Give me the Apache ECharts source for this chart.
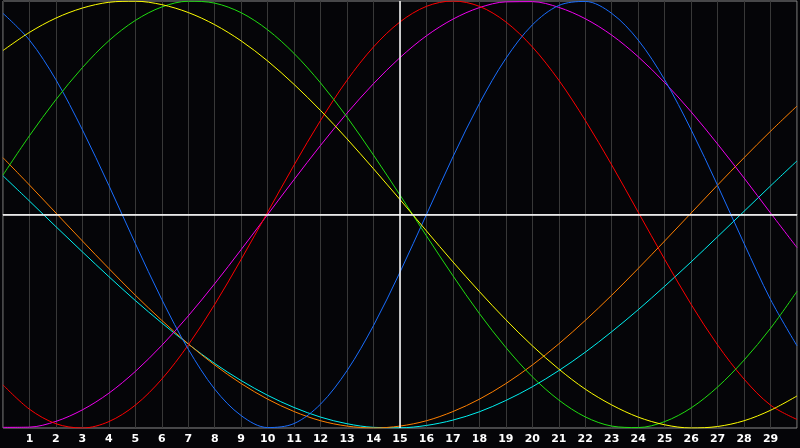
<!DOCTYPE html>
<html>
<head>
<meta charset="utf-8">
<script src="https://cdn.jsdelivr.net/npm/echarts@6/dist/echarts.min.js"></script>
<style>html,body{margin:0;padding:0;background:#050508;}#c{width:800px;height:448px;}</style>
</head>
<body>
<div id="c"></div>
<script>
var categories = ['0','1','2','3','4','5','6','7','8','9','10','11','12','13','14','15','16','17','18','19','20','21','22','23','24','25','26','27','28','29','30'];
var yellow  = [76.8,85.3,92.0,96.7,99.4,99.9,98.3,94.6,88.9,81.3,71.9,60.9,48.7,35.4,21.4,7.0,-7.7,-22.2,-36.1,-49.3,-61.5,-72.4,-81.8,-89.2,-94.9,-98.5,-100,-99.3,-96.6,-91.7,-85.0];
var green   = [18.5,36.9,53.8,68.8,81.4,90.9,97.2,99.9,99.0,94.5,86.5,75.4,61.6,45.6,27.8,9.1,-10.0,-28.7,-46.4,-62.3,-76.0,-86.9,-94.8,-99.1,-99.8,-97.0,-90.6,-80.8,-68.2,-53.3,-36.0];
var blue    = [94.2,81.7,63.1,39.7,13.6,-13.6,-39.8,-63.1,-81.8,-94.2,-99.8,-97.9,-88.8,-73.1,-52.0,-27.0,0,27.0,52.0,73.1,88.8,97.9,99.8,94.2,81.7,63.1,39.7,13.6,-13.6,-39.8,-61.5];
var red     = [-79.8,-91.2,-98.0,-100,-97.0,-89.3,-77.1,-61.1,-42.1,-21.0,1.1,23.2,44.1,62.9,78.5,90.2,97.5,100,97.5,90.2,78.5,62.9,44.1,23.2,1.1,-21.0,-42.1,-61.1,-77.1,-89.3,-96.0];
var magenta = [-99.7,-99.6,-96.9,-91.5,-83.7,-73.5,-61.3,-47.5,-32.4,-16.4,0,16.4,32.4,47.5,61.3,73.5,83.7,91.5,96.9,99.6,99.7,97.0,91.7,84.0,73.9,61.8,48.1,33.0,17.1,0.7,-15.5];
var orange  = [26.6,13.8,0.7,-12.4,-25.3,-37.8,-49.6,-60.6,-70.5,-79.2,-86.5,-92.3,-96.6,-99.1,-100,-99.1,-96.6,-92.3,-86.5,-79.2,-70.5,-60.6,-49.6,-37.8,-25.3,-12.4,0.7,13.8,26.6,39.0,50.8];
var cyan    = [18.1,6.3,-5.7,-17.5,-29.1,-40.3,-50.8,-60.7,-69.8,-77.8,-84.7,-90.4,-94.9,-98.0,-99.7,-99.9,-98.8,-96.3,-92.4,-87.1,-80.7,-73.1,-64.5,-54.9,-44.6,-33.6,-22.2,-10.4,1.5,13.4,25.1];
var hiddenLabels = ['0','30'];

var seriesDefs = [
  {name:'cyan', data:cyan, color:'#00f0f0'},
  {name:'orange', data:orange, color:'#ff8000'},
  {name:'magenta', data:magenta, color:'#f000f0'},
  {name:'red', data:red, color:'#ff0000'},
  {name:'blue', data:blue, color:'#1a6eff'},
  {name:'green', data:green, color:'#20dd10'},
  {name:'yellow', data:yellow, color:'#ffff00'}
];

var series = seriesDefs.map(function(s){
  return {
    name:s.name, type:'line', data:s.data, smooth:0.33, showSymbol:false,
    lineStyle:{color:s.color, width:1}, itemStyle:{color:s.color},
    silent:true, z:3
  };
});
series.push({
  type:'line', data:[], silent:true,
  markLine:{
    silent:true, symbol:'none', label:{show:false},
    lineStyle:{color:'#ffffff', width:1.5, type:'solid'},
    data:[{xAxis:'15'},{yAxis:0}]
  },
  z:2
});

var chart = echarts.init(document.getElementById('c'));
chart.setOption({
  backgroundColor:'#050508',
  animation:false,
  grid:{left:0, right:0, top:1, bottom:20, show:true, borderColor:'#8a8a8a', borderWidth:1, backgroundColor:'transparent'},
  xAxis:{
    type:'category', data:categories, boundaryGap:false,
    axisLine:{show:true, lineStyle:{color:'#a8a8a8', width:1}},
    axisTick:{show:false},
    axisLabel:{
      interval:0, color:'#ffffff', fontFamily:'DejaVu Sans', fontWeight:'bold', fontSize:11, margin:6,
      formatter:function(v){ return hiddenLabels.indexOf(v) >= 0 ? '' : v; }
    },
    splitLine:{show:true, interval:0, lineStyle:{color:'#383838', width:1}}
  },
  yAxis:{
    type:'value', min:-100, max:100,
    axisLine:{show:false}, axisTick:{show:false}, axisLabel:{show:false},
    splitLine:{show:false}
  },
  series:series
});
</script>
</body>
</html>
